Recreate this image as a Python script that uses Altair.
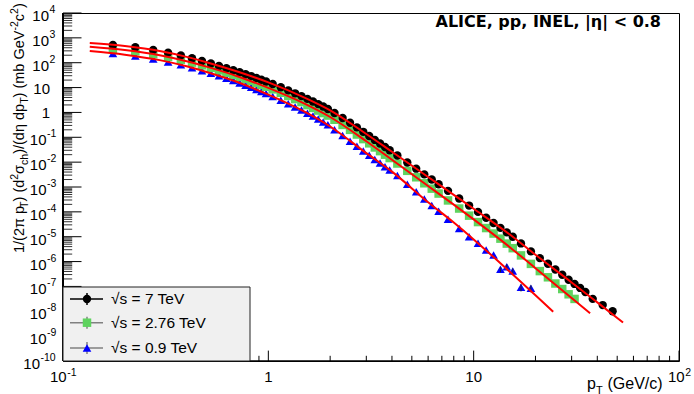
import altair as alt
import pandas as pd

# ---------------- data ----------------
pt_7 = [0.175, 0.225, 0.275, 0.325, 0.375, 0.425, 0.475, 0.525, 0.575, 0.625,
        0.675, 0.725, 0.775, 0.825, 0.875, 0.925, 0.975,
        1.05, 1.15, 1.25, 1.35, 1.45, 1.55, 1.65, 1.75, 1.85, 1.95,
        2.1, 2.3, 2.5, 2.7, 2.9, 3.1, 3.3, 3.5, 3.7, 3.9,
        4.25, 4.75, 5.25, 5.75, 6.25, 6.75, 7.5, 8.5, 9.5, 10.5, 11.5, 12.5, 13.5, 14.5, 15.5,
        17, 19, 21, 23, 25, 27, 29, 31, 33, 35, 38, 42.5, 47.5]
val_7 = [516, 422, 327, 254, 197, 151, 117.5, 93.3, 74.1, 59.7,
         49.5, 41.2, 34.4, 29.0, 24.3, 20.7, 17.5,
         13.9, 10.3, 7.71, 5.87, 4.52, 3.50, 2.75, 2.16, 1.73, 1.38,
         0.951, 0.598, 0.385, 0.251, 0.166, 0.113, 0.0782, 0.0561, 0.0408, 0.0301,
         0.0185, 0.00964, 0.00546, 0.00321, 0.00200, 0.00129, 7.0e-4, 3.43e-4, 1.79e-4,
         9.98e-5, 5.79e-5, 3.55e-5, 2.27e-5, 1.49e-5, 1.0e-5,
         5.37e-6, 2.57e-6, 1.38e-6, 8.13e-7, 4.79e-7, 2.95e-7, 1.86e-7, 1.26e-7, 8.7e-8,
         6.0e-8, 3.16e-8, 1.78e-8, 1.0e-8]

pt_276 = pt_7[:60]
val_276 = [356, 288, 222, 171, 132, 101, 78.2, 61.9, 49.1, 39.4,
           32.4, 26.7, 22.1, 18.4, 15.3, 12.9, 10.8,
           8.47, 6.17, 4.57, 3.44, 2.61, 1.97, 1.53, 1.19, 0.942, 0.748,
           0.506, 0.314, 0.199, 0.129, 0.0845, 0.0570, 0.0390, 0.0277, 0.0199, 0.0146,
           0.00879, 0.00447, 0.00246, 0.00141, 8.59e-4, 5.44e-4, 2.88e-4, 1.36e-4, 7.03e-5,
           3.88e-5, 2.23e-5, 1.34e-5, 8.36e-6, 5.28e-6, 3.46e-6,
           1.77e-6, 8.07e-7, 4.14e-7, 2.33e-7, 1.31e-7, 7.85e-8, 4.82e-8, 3.14e-8]

pt_09 = pt_7[:54]
val_09 = [235, 187, 142, 108, 82.6, 62.8, 47.9, 37.7, 29.6, 23.7,
          19.1, 15.3, 12.4, 10.2, 8.30, 6.92, 5.71,
          4.41, 3.10, 2.25, 1.67, 1.24, 0.931, 0.711, 0.545, 0.415, 0.317,
          0.202, 0.117, 0.0693, 0.0432, 0.0281, 0.0190, 0.0129, 0.00914, 0.00659, 0.00482,
          0.00289, 0.00129, 6.37e-4, 3.29e-4, 1.81e-4, 1.06e-4, 5.09e-5, 2.13e-5, 1.0e-5,
          5.44e-6, 2.93e-6, 1.84e-6, 4.90e-7, 6.24e-7, 4.19e-7,
          9.25e-8, 8.43e-8]

# visible error bars (0.9 TeV, highest pT points), relative
err_pt_09 = [13.5, 14.5, 15.5, 17, 19]
err_rel_09 = [0.25, 0.25, 0.25, 0.32, 0.32]

# fit curves (red)
fit_pt_7 = [0.135, 0.2, 0.3, 0.4, 0.5, 0.7, 1, 1.5, 2, 3, 4, 6, 8, 10, 15, 20, 30, 40, 53.4]
fit_val_7 = [617, 468, 288, 172, 105, 45.2, 16.2, 3.97, 1.22, 0.136, 0.0261, 0.00253,
             4.83e-4, 1.33e-4, 1.22e-5, 1.87e-6, 1.45e-7, 2.29e-8, 3.55e-9]
fit_pt_276 = [0.135, 0.2, 0.3, 0.4, 0.5, 0.7, 1, 1.5, 2, 3, 4, 6, 8, 10, 15, 20, 30, 36.9]
fit_val_276 = [437, 322, 195, 115, 69.5, 29.4, 9.66, 2.26, 0.655, 0.0695, 0.0125, 0.0011,
               1.95e-4, 5.0e-5, 3.8e-6, 5.4e-7, 3.4e-8, 8.3e-9]
fit_pt_09 = [0.135, 0.2, 0.3, 0.4, 0.5, 0.7, 1, 1.5, 2, 3, 4, 6, 8, 10, 15, 20, 24.4]
fit_val_09 = [295, 210, 124, 71.6, 42.4, 17.1, 5.21, 1.07, 0.272, 0.0231, 0.00414, 2.44e-4,
              3.7e-5, 7.8e-6, 3.9e-7, 4.4e-8, 9.5e-9]

legend_labels = ["\u221as = 7 TeV", "\u221as = 2.76 TeV", "\u221as = 0.9 TeV"]

# axis decades and the exponent shown for each
y_exp1 = [(1e4, "4"), (1e3, "3"), (1e2, "2")]
y_exp2 = [(10.0 ** -k, "-%d" % k) for k in range(1, 10)]
y_exp3 = [(1e-10, "-10")]
y_plain = [(10.0, "10"), (1.0, "1")]
x_plain = [(1.0, "1"), (10.0, "10")]
x_neg = [(0.1, "-1")]
x_pos = [(100.0, "2")]

# ---------------- scales ----------------
xs = alt.Scale(type="log", domain=[0.1, 100], nice=False)
ys = alt.Scale(type="log", domain=[1e-10, 1e4], nice=False)


def X(f):
    return alt.X(f"{f}:Q", scale=xs, axis=None)


def Y(f):
    return alt.Y(f"{f}:Q", scale=ys, axis=None)


W, H = 616, 348
L0, T0 = 63, 13          # plot origin in the page
LF = "Liberation Sans"
BF = "DejaVu Sans"

layers = []

# minor / major ticks (inward, ROOT style)
y_major = [10.0 ** k for k in range(-10, 5)]
y_minor = [m * 10.0 ** k for k in range(-10, 4) for m in range(2, 10)]
x_major = [0.1, 1.0, 10.0, 100.0]
x_minor = [m * 10.0 ** k for k in range(-1, 2) for m in range(2, 10)]
layers.append(alt.Chart(pd.DataFrame({"v": y_major})).mark_rule(color="black", strokeWidth=1)
              .encode(y=Y("v"), x=alt.value(0), x2=alt.value(18.5)))
layers.append(alt.Chart(pd.DataFrame({"v": y_minor})).mark_rule(color="#333", strokeWidth=1)
              .encode(y=Y("v"), x=alt.value(0), x2=alt.value(9.2)))
layers.append(alt.Chart(pd.DataFrame({"v": x_major})).mark_rule(color="black", strokeWidth=1)
              .encode(x=X("v"), y=alt.value(H), y2=alt.value(H - 10.4)))
layers.append(alt.Chart(pd.DataFrame({"v": x_minor})).mark_rule(color="black", strokeWidth=1)
              .encode(x=X("v"), y=alt.value(H), y2=alt.value(H - 5.2)))

# data markers
df09 = pd.DataFrame({"pt": pt_09, "v": val_09})
df276 = pd.DataFrame({"pt": pt_276, "v": val_276})
df7 = pd.DataFrame({"pt": pt_7, "v": val_7})
layers.append(alt.Chart(df09).mark_point(shape="triangle-up", filled=True, size=75, color="#0000ff", opacity=1)
              .encode(x=X("pt"), y=Y("v")))
layers.append(alt.Chart(df276).mark_point(shape="square", filled=True, size=72, color="#5fd35f", opacity=1)
              .encode(x=X("pt"), y=Y("v")))
layers.append(alt.Chart(df7).mark_point(shape="circle", filled=True, size=70, color="#000000", opacity=1)
              .encode(x=X("pt"), y=Y("v")))

# error bars
err = pd.DataFrame({"pt": err_pt_09, "rel": err_rel_09})
err = err.merge(df09, on="pt")
err["lo"] = err["v"] * (1 - err["rel"])
err["hi"] = err["v"] * (1 + err["rel"])
layers.append(alt.Chart(err).mark_rule(color="#222", strokeWidth=1)
              .encode(x=X("pt"), y=Y("lo"), y2="hi:Q"))

# fit curves
for fp, fv in [(fit_pt_09, fit_val_09), (fit_pt_276, fit_val_276), (fit_pt_7, fit_val_7)]:
    layers.append(alt.Chart(pd.DataFrame({"pt": fp, "v": fv}))
                  .mark_line(color="#ff0000", strokeWidth=2, interpolate="monotone")
                  .encode(x=X("pt"), y=Y("v")))

# thicker left / bottom axis lines
one = pd.DataFrame({"a": [0]})
layers.append(alt.Chart(one).mark_rule(color="black", strokeWidth=2)
              .encode(x=alt.value(0), y=alt.value(0), y2=alt.value(H)))
layers.append(alt.Chart(one).mark_rule(color="black", strokeWidth=1.5)
              .encode(x=alt.value(0), x2=alt.value(W), y=alt.value(H)))


def df_of(pairs):
    return pd.DataFrame({"v": [p[0] for p in pairs], "e": [p[1] for p in pairs]})


# y tick labels: base "10" + superscript exponent
for pairs, base_right in [(y_exp1, 49), (y_exp2, 46.5), (y_exp3, 40)]:
    d = df_of(pairs)
    d["b"] = "10"
    layers.append(alt.Chart(d).mark_text(align="right", baseline="middle", font=LF, fontSize=15, dy=3)
                  .encode(y=Y("v"), x=alt.value(base_right - L0), text="b:N"))
    layers.append(alt.Chart(d).mark_text(align="left", baseline="middle", font=LF, fontSize=10.5, dy=-3)
                  .encode(y=Y("v"), x=alt.value(base_right + 0.5 - L0), text="e:N"))
d = df_of(y_plain)
layers.append(alt.Chart(d).mark_text(align="right", baseline="middle", font=LF, fontSize=15, dy=1)
              .encode(y=Y("v"), x=alt.value(50 - L0), text="e:N"))

# x tick labels
XB = 382 - T0
d = df_of(x_plain)
layers.append(alt.Chart(d).mark_text(align="center", baseline="alphabetic", font=LF, fontSize=15)
              .encode(x=X("v"), y=alt.value(XB), text="e:N"))
for pairs, shift in [(x_neg, 3.7), (x_pos, 5.7)]:
    d = df_of(pairs)
    d["b"] = "10"
    layers.append(alt.Chart(d).mark_text(align="right", baseline="alphabetic", font=LF, fontSize=15, dx=shift)
                  .encode(x=X("v"), y=alt.value(XB), text="b:N"))
    layers.append(alt.Chart(d).mark_text(align="left", baseline="alphabetic", font=LF, fontSize=10.5,
                                         dx=shift + 0.5, dy=-6)
                  .encode(x=X("v"), y=alt.value(XB), text="e:N"))

# y-axis title, built from pieces (subscripts / superscripts)
ytitle = [("1/(2\u03c0 p", 14.5, 0), ("T", 10.5, 4), (") (d", 14.5, 0), ("2", 10.5, -6),
          ("\u03c3", 14.5, 0), ("ch", 10.5, 4), (")/(d\u03b7 dp", 14.5, 0), ("T", 10.5, 4),
          (") (mb GeV", 14.5, 0), ("-2", 10.5, -6), ("c", 14.5, 0), ("2", 10.5, -6), (")", 14.5, 0)]
ywidths = [45.1, 6.42, 21.75, 5.84, 8.95, 11.09, 50.0, 6.42, 66.9, 9.33, 7.25, 5.84, 4.83]
off = 0.0
for (txt, fs, dy), w in zip(ytitle, ywidths):
    layers.append(alt.Chart(pd.DataFrame({"t": [txt]}))
                  .mark_text(angle=270, align="left", baseline="alphabetic", font=LF, fontSize=fs,
                             dx=off, dy=dy, color="black")
                  .encode(x=alt.value(23.5 - L0), y=alt.value(253 - T0), text="t:N"))
    off += w

# x-axis title (kept just left of the "10^2" label)
xtitle = [("p", 16, 0, 0), ("T", 11, 4.5, 9), ("(GeV/c)", 16, 0, 20.5)]
for txt, fs, dy, dx in xtitle:
    layers.append(alt.Chart(pd.DataFrame({"t": [txt]}))
                  .mark_text(align="left", baseline="alphabetic", font=LF, fontSize=fs, dx=dx, dy=dy)
                  .encode(x=alt.value(587 - L0), y=alt.value(389 - T0), text="t:N"))

# top-right label
layers.append(alt.Chart(pd.DataFrame({"t": ["ALICE, pp, INEL, |\u03b7| < 0.8"]}))
              .mark_text(align="right", baseline="alphabetic", font=BF, fontSize=16, fontWeight="bold")
              .encode(x=alt.value(661 - L0), y=alt.value(27 - T0), text="t:N"))

# legend box
layers.append(alt.Chart(one).mark_rect(fill="#f0f0f0", stroke="#222", strokeWidth=1)
              .encode(x=alt.value(0), x2=alt.value(250 - L0), y=alt.value(287 - T0), y2=alt.value(H)))
leg_y = [299 - T0, 322.7 - T0, 348 - T0]
leg_line = ["#000000", "#808080", "#808080"]
leg_shape = ["circle", "square", "triangle-up"]
leg_col = ["#000000", "#5fd35f", "#0000ff"]
leg_size = [70, 72, 75]
for lab, yy, lc, sh, col, sz in zip(legend_labels, leg_y, leg_line, leg_shape, leg_col, leg_size):
    d = pd.DataFrame({"t": [lab]})
    layers.append(alt.Chart(d).mark_rule(color=lc, strokeWidth=1.5)
                  .encode(x=alt.value(70 - L0), x2=alt.value(103 - L0), y=alt.value(yy)))
    layers.append(alt.Chart(d).mark_rule(color=lc, strokeWidth=1.5)
                  .encode(x=alt.value(87 - L0), y=alt.value(yy - 6), y2=alt.value(yy + 6)))
    layers.append(alt.Chart(d).mark_point(shape=sh, filled=True, size=sz, color=col, opacity=1)
                  .encode(x=alt.value(87 - L0), y=alt.value(yy)))
    layers.append(alt.Chart(d).mark_text(align="left", baseline="middle", font=LF, fontSize=15.5)
                  .encode(x=alt.value(111 - L0), y=alt.value(yy), text="t:N"))

chart = (alt.layer(*layers)
         .properties(width=W, height=H,
                     padding={"left": L0, "top": T0, "right": 694 - L0 - W, "bottom": 394 - T0 - H},
                     autosize=alt.AutoSizeParams(type="none"))
         .configure_view(stroke="black", strokeWidth=1))

chart.save("out.html", embed_options={"renderer": "svg", "actions": False})
